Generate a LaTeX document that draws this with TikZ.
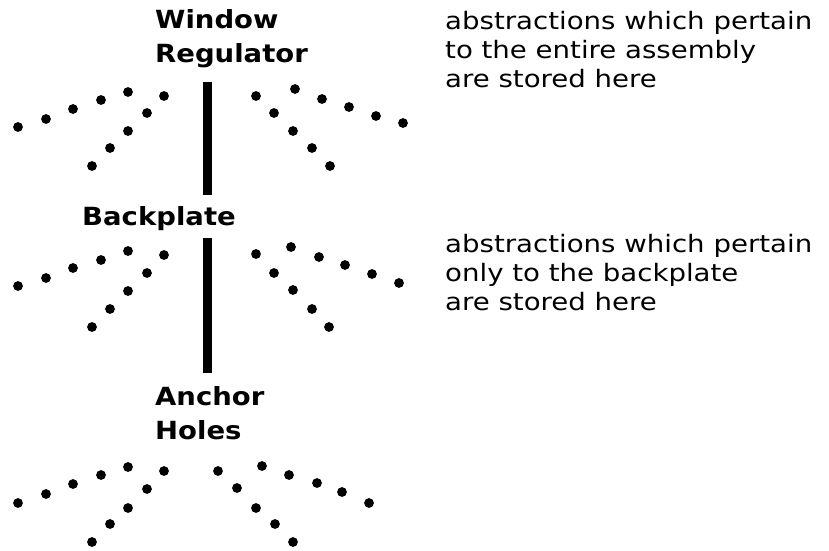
\documentclass[tikz,border=0pt]{standalone}
\usepackage{fontspec}
\setmainfont{DejaVu Sans}
\newfontfamily\labelfont[FakeStretch=1.1]{DejaVu Sans}
\newfontfamily\notefont[FakeStretch=1.15]{DejaVu Sans}
\usetikzlibrary{positioning}
\tikzset{
  lbl/.style={anchor=north west,inner sep=0pt,align=left,font=\labelfont\bfseries\fontsize{25}{34}\selectfont},
  note/.style={anchor=north west,inner sep=0pt,align=left,font=\notefont\fontsize{24}{29}\selectfont},
  link/.style={line width=9pt},
  pt/.style={fill=black}
}
\newcommand{\pr}{4.9}

\begin{document}
\begin{tikzpicture}[x=1pt,y=-1pt]
\useasboundingbox (0,0) rectangle (829,550);
% part labels
\node[lbl] (wr) at (155,9) {Window\\Regulator};
\node[lbl] (bp) at (82,206) {Backplate};
\node[lbl] (ah) at (155,386) {Anchor\\Holes};
% notes
\node[note] (n1) at (445,11) {abstractions which pertain\\to the entire assembly\\are stored here};
\node[note] (n2) at (445,234) {abstractions which pertain\\only to the backplate\\are stored here};
% links
\coordinate (bx) at (207,0);
\draw[link,shorten <=14pt,shorten >=11pt] (wr.south -| bx) -- (bp.north -| bx);
\draw[link,shorten <=7pt,shorten >=13pt] (bp.south -| bx) -- (ah.north -| bx);
% dots
\foreach \x/\y in {18/127,46/119,73/109,101/100,128/92,164/96,147/113,128/131,110/148,92/166,
  256/96,295/89,322/99,349/107,376/116,403/123,274/113,293/131,312/148,330/166}
  \fill[pt] (\x,\y) circle (\pr);
\foreach \x/\y in {18/286,46/278,73/268,101/260,128/251,164/255,147/273,128/291,110/309,92/327,
  256/254,291/247,319/257,345/265,372/274,399/283,274/273,293/290,312/309,329/327}
  \fill[pt] (\x,\y) circle (\pr);
\foreach \x/\y in {18/503,46/494,73/484,101/475,128/467,164/471,147/489,128/508,110/524,92/542,
  218/471,262/466,289/475,317/483,342/492,369/503,237/488,256/508,275/524,293/542}
  \fill[pt] (\x,\y) circle (\pr);
\end{tikzpicture}
\end{document}
